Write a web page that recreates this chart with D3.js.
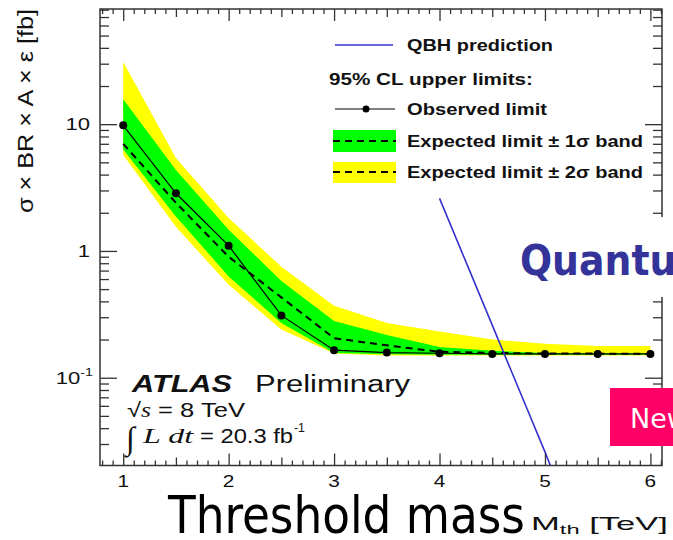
<!DOCTYPE html>
<html><head><meta charset="utf-8">
<script src="https://cdn.jsdelivr.net/npm/d3@7"></script>
<style>html,body{margin:0;padding:0;background:#fff;overflow:hidden}</style>
</head><body><svg id="c" width="673" height="540"></svg>
<script>
// ---- data ----
const massTeV       = [1, 1.5, 2, 2.5, 3, 3.5, 4, 4.5, 5, 5.5, 6];
const observedLimit = [9.8, 2.85, 1.1, 0.31, 0.165, 0.158, 0.156, 0.154, 0.154, 0.154, 0.154];
const expectedLimit = [7.0, 2.4, 0.9, 0.43, 0.205, 0.18, 0.16, 0.157, 0.155, 0.155, 0.154];
const plus1Sigma    = [15.7, 4.35, 1.47, 0.58, 0.28, 0.217, 0.175, 0.163, 0.157, 0.156, 0.156];
const minus1Sigma   = [6.3, 1.87, 0.63, 0.27, 0.157, 0.153, 0.152, 0.152, 0.152, 0.152, 0.152];
const plus2Sigma    = [31, 5.4, 1.82, 0.75, 0.37, 0.27, 0.231, 0.2, 0.185, 0.178, 0.178];
const minus2Sigma   = [5.7, 1.55, 0.54, 0.24, 0.155, 0.15, 0.15, 0.15, 0.15, 0.15, 0.15];
const qbhMass       = [4.0, 4.5, 5.0, 5.1];
const qbhXsec       = [2.6, 0.26, 0.026, 0.016];
const xTickValues   = [1, 2, 3, 4, 5, 6];
const xTickLabels   = ["1", "2", "3", "4", "5", "6"];
const yTickValues   = [10, 1, 0.1];
const yTickLabels   = [["10", ""], ["1", ""], ["10", "-1"]];

const svg = d3.select("#c");
const L = 100, R = 662, T = 9, B = 465.5;
const x = d3.scaleLinear().domain([0.78, 6.11]).range([L, R]);
const y = d3.scaleLog().domain([0.0203, 81]).range([B, T]);

const pts = massTeV.map((m, i) => ({m, obs: observedLimit[i], exp: expectedLimit[i],
  p1: plus1Sigma[i], m1: minus1Sigma[i], p2: plus2Sigma[i], m2: minus2Sigma[i]}));

const defs = svg.append("defs");
defs.append("clipPath").attr("id", "plotclip")
  .append("rect").attr("x", L).attr("y", T).attr("width", R - L).attr("height", B - T);

const plot = svg.append("g").attr("clip-path", "url(#plotclip)");
plot.append("path").datum(pts).attr("fill", "#ffff00")
  .attr("d", d3.area().x(d => x(d.m)).y0(d => y(d.m2)).y1(d => y(d.p2)));
plot.append("path").datum(pts).attr("fill", "#00ff00")
  .attr("d", d3.area().x(d => x(d.m)).y0(d => y(d.m1)).y1(d => y(d.p1)));
plot.append("path").datum(pts).attr("fill", "none").attr("stroke", "#000")
  .attr("stroke-width", 2).attr("stroke-dasharray", "7,5")
  .attr("d", d3.line().x(d => x(d.m)).y(d => y(d.exp)));
plot.append("path").datum(pts).attr("fill", "none").attr("stroke", "#000")
  .attr("stroke-width", 1.2)
  .attr("d", d3.line().x(d => x(d.m)).y(d => y(d.obs)));
plot.selectAll("circle.obs").data(pts).enter().append("circle").attr("class", "obs")
  .attr("cx", d => x(d.m)).attr("cy", d => y(d.obs)).attr("r", 4).attr("fill", "#000");
const qbh = qbhMass.map((m, i) => ({m, v: qbhXsec[i]}));
plot.append("path").datum(qbh).attr("fill", "none").attr("stroke", "#3333cc")
  .attr("stroke-width", 1.6)
  .attr("d", d3.line().x(d => x(d.m)).y(d => y(d.v)));

// ---- axes (ticks inward on all four sides) ----
const yMinor = [];
[-2, -1, 0, 1].forEach(e => { for (let k = 2; k <= 9; k++) { const v = k * Math.pow(10, e); if (v > 0.0203 && v < 81) yMinor.push(v); } });
const xMinor = d3.range(8, 62).map(i => i / 10).filter(v => Math.abs(v - Math.round(v)) > 1e-6 && Math.abs(v * 2 - Math.round(v * 2)) > 1e-6);
const xMid = [1.5, 2.5, 3.5, 4.5, 5.5];
function ax(gen, tr, vals, size) {
  const g = svg.append("g").attr("transform", tr)
    .call(gen.tickValues(vals).tickSize(size).tickFormat(""));
  g.select(".domain").remove();
  g.selectAll("line").attr("stroke", "#333").attr("stroke-width", 1.3);
}
ax(d3.axisRight(y), `translate(${L},0)`, yTickValues, 17);
ax(d3.axisRight(y), `translate(${L},0)`, yMinor, 9);
ax(d3.axisLeft(y), `translate(${R},0)`, yTickValues, 17);
ax(d3.axisLeft(y), `translate(${R},0)`, yMinor, 9);
ax(d3.axisTop(x), `translate(0,${B})`, xTickValues, 12);
ax(d3.axisTop(x), `translate(0,${B})`, xMid, 8);
ax(d3.axisTop(x), `translate(0,${B})`, xMinor, 5);
ax(d3.axisBottom(x), `translate(0,${T})`, xTickValues, 12);
ax(d3.axisBottom(x), `translate(0,${T})`, xMid, 8);
ax(d3.axisBottom(x), `translate(0,${T})`, xMinor, 5);
svg.append("rect").attr("x", L).attr("y", T).attr("width", R - L).attr("height", B - T)
  .attr("fill", "none").attr("stroke", "#333").attr("stroke-width", 1.5);

const HEL = "'Liberation Sans', Arial, Helvetica, sans-serif";
const SER = "'Liberation Serif', 'Times New Roman', serif";

// tick labels
xTickValues.forEach((v, i) => {
  svg.append("text").attr("transform", `translate(${x(v)},487) scale(1.3,1)`)
    .attr("text-anchor", "middle").attr("font-family", HEL).attr("font-size", 16)
    .attr("fill", "#111").text(xTickLabels[i]);
});
yTickValues.forEach((v, i) => {
  const t = svg.append("text").attr("transform", `translate(${i === 2 ? 93 : 90},${y(v) + 6}) scale(1.3,1)`)
    .attr("text-anchor", "end").attr("font-family", HEL).attr("font-size", 17).attr("fill", "#111");
  t.append("tspan").text(yTickLabels[i][0]);
  if (yTickLabels[i][1]) t.append("tspan").attr("font-size", 11).attr("dy", -8).text(yTickLabels[i][1]);
});

// y axis title
svg.append("text").attr("transform", "translate(33,213) rotate(-90)")
  .attr("font-family", HEL).attr("font-size", 22).attr("fill", "#111")
  .attr("textLength", 204).attr("lengthAdjust", "spacingAndGlyphs")
  .text("σ × BR × A × ε [fb]");

// legend
function txt(xp, yp, s, size, width, extra) {
  const t = svg.append("text").attr("x", xp).attr("y", yp).attr("font-family", HEL)
    .attr("font-size", size).attr("fill", "#111").text(s);
  if (width) t.attr("textLength", width).attr("lengthAdjust", "spacingAndGlyphs");
  if (extra) extra(t);
  return t;
}
svg.append("line").attr("x1", 335).attr("x2", 393).attr("y1", 45).attr("y2", 45)
  .attr("stroke", "#3333cc").attr("stroke-width", 1.6);
txt(407, 51, "QBH prediction", 16, 146, t => t.attr("font-weight", "bold"));
txt(329, 85, "95% CL upper limits:", 16, 204, t => t.attr("font-weight", "bold"));
svg.append("line").attr("x1", 335).attr("x2", 395).attr("y1", 109).attr("y2", 109)
  .attr("stroke", "#000").attr("stroke-width", 1.2);
svg.append("circle").attr("cx", 366).attr("cy", 109).attr("r", 3.5).attr("fill", "#000");
txt(407, 115, "Observed limit", 16, 140, t => t.attr("font-weight", "bold"));
svg.append("rect").attr("x", 333).attr("y", 130).attr("width", 63).attr("height", 22).attr("fill", "#00ff00");
svg.append("line").attr("x1", 333).attr("x2", 396).attr("y1", 141).attr("y2", 141)
  .attr("stroke", "#000").attr("stroke-width", 2).attr("stroke-dasharray", "7,5");
txt(407, 147, "Expected limit ± 1σ band", 16, 236, t => t.attr("font-weight", "bold"));
svg.append("rect").attr("x", 333).attr("y", 162).attr("width", 63).attr("height", 21).attr("fill", "#ffff00");
svg.append("line").attr("x1", 333).attr("x2", 396).attr("y1", 172).attr("y2", 172)
  .attr("stroke", "#000").attr("stroke-width", 2).attr("stroke-dasharray", "7,5");
txt(407, 178, "Expected limit ± 2σ band", 16, 236, t => t.attr("font-weight", "bold"));

// ATLAS labels
txt(132, 392, "ATLAS", 23, 100, t => t.attr("font-weight", "bold").attr("font-style", "italic"));
txt(255, 392, "Preliminary", 23, 155);
{
  const t = svg.append("text").attr("x", 127).attr("y", 417).attr("font-family", HEL)
    .attr("font-size", 20).attr("fill", "#111").attr("textLength", 118).attr("lengthAdjust", "spacingAndGlyphs");
  t.append("tspan").text("√");
  t.append("tspan").attr("font-family", SER).attr("font-style", "italic").text("s");
  t.append("tspan").text(" = 8 TeV");
}
svg.append("text").attr("x", 126).attr("y", 449).attr("font-family", SER).attr("font-size", 32)
  .attr("fill", "#111").text("∫");
txt(143, 443, "L dt", 22, 50, t => t.attr("font-family", SER).attr("font-style", "italic"));
txt(200, 443, "= 20.3 fb", 20, 93);
txt(294, 432, "-1", 13, 11);

// x axis title
{
  const t = svg.append("text").attr("x", 531).attr("y", 530).attr("font-family", HEL)
    .attr("font-size", 19).attr("fill", "#111").attr("textLength", 137).attr("lengthAdjust", "spacingAndGlyphs");
  t.append("tspan").text("M");
  t.append("tspan").attr("font-size", 13).attr("dy", 4).text("th");
  t.append("tspan").attr("dy", -4).text(" [TeV]");
}
svg.append("text").attr("x", 168).attr("y", 533).attr("font-family", "'DejaVu Sans Condensed', 'DejaVu Sans', sans-serif")
  .attr("font-size", 52).attr("fill", "#000").attr("textLength", 357).attr("lengthAdjust", "spacingAndGlyphs")
  .text("Threshold mass");

// slide overlays
defs.append("clipPath").attr("id", "qclip").append("rect").attr("x", 515).attr("y", 217).attr("width", 158).attr("height", 80);
defs.append("clipPath").attr("id", "nclip").append("rect").attr("x", 610).attr("y", 388).attr("width", 63).attr("height", 58);
const q = svg.append("g").attr("clip-path", "url(#qclip)");
q.append("rect").attr("x", 515).attr("y", 217).attr("width", 158).attr("height", 80).attr("fill", "#fff");
q.append("text").attr("x", 520).attr("y", 275).attr("font-family", "'DejaVu Sans Condensed', 'DejaVu Sans', sans-serif")
  .attr("font-weight", "bold").attr("font-size", 42).attr("fill", "#333399").text("Quantum");
const n = svg.append("g").attr("clip-path", "url(#nclip)");
n.append("rect").attr("x", 610).attr("y", 388).attr("width", 63).attr("height", 58).attr("fill", "#ff0066");
n.append("text").attr("x", 630).attr("y", 428).attr("font-family", "'DejaVu Sans', sans-serif")
  .attr("font-size", 27).attr("fill", "#fff").text("New");
</script></body></html>
